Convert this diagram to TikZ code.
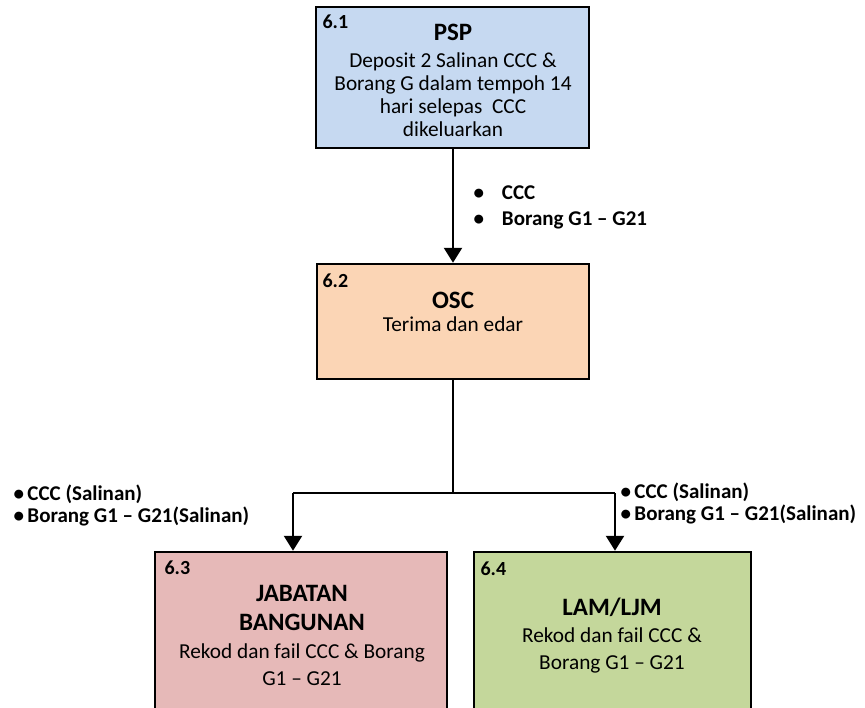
\documentclass[tikz,border=0pt]{standalone}
\usepackage{fontspec}
\setmainfont{Carlito}
\usetikzlibrary{arrows.meta}
\definecolor{biru}{HTML}{C6D9F1}
\definecolor{oren}{HTML}{FBD5B5}
\definecolor{merah}{HTML}{E6B9B8}
\definecolor{hijau}{HTML}{C4D79B}
\newcommand{\tajuk}[1]{{\fontsize{25}{28}\selectfont\bfseries #1}}

\begin{document}
\begin{tikzpicture}[x=1pt,y=-1pt,
  kotak/.style={draw,line width=2.5pt,inner sep=0pt},
  isi/.style={align=center,font=\fontsize{21.3}{23}\selectfont},
  nombor/.style={anchor=west,font=\fontsize{20}{22}\selectfont\bfseries},
  label/.style={anchor=west,align=left,font=\fontsize{21}{22}\selectfont\bfseries},
  panah/.style={line width=2.5pt,-{Triangle[width=18pt,length=15pt]}}]
\useasboundingbox (0,0) rectangle (865,707);
\clip (0,0) rectangle (865,707);

% kotak
\node[kotak,fill=biru,minimum width=273pt,minimum height=141pt] (psp) at (452.5,77.5) {};
\node[kotak,fill=oren,minimum width=272pt,minimum height=115pt] (osc) at (453,321.5) {};
\node[kotak,fill=merah,minimum width=292pt,minimum height=190pt] (jb) at (301,647) {};
\node[kotak,fill=hijau,minimum width=277pt,minimum height=190pt] (lam) at (612.5,647) {};

% nombor
\node[nombor] (n1) at (319,22) {6.1};
\node[nombor] (n2) at (319,281) {6.2};
\node[nombor] (n3) at (161,568) {6.3};
\node[nombor] (n4) at (477,569) {6.4};

% teks
\node[isi] (t1) at (453,80) {\tajuk{PSP}\\[4pt]Deposit 2 Salinan CCC \&\\Borang G dalam tempoh 14\\hari selepas\ \ CCC\\dikeluarkan};
\node[isi] (t2) at (453,312) {\tajuk{OSC}\\Terima dan edar};
\node[isi] (t3) at (302,635) {\tajuk{JABATAN}\\[6pt]\tajuk{BANGUNAN}\\[5pt]Rekod dan fail CCC \& Borang\\[4pt]G1 -- G21};
\node[isi] (t4) at (612,636) {\tajuk{LAM/LJM}\\[4pt]Rekod dan fail CCC \&\\[4pt]Borang G1 -- G21};

% sambungan
\coordinate (cabang) at (453,493);
\coordinate (kiri) at (293,493);
\coordinate (kanan) at (615,493);
\draw[panah] (psp.south -| osc.north) -- (osc.north);
\draw[line width=2.5pt] (osc.south) -- (cabang);
\draw[line width=2.5pt] (kiri) -- (kanan);
\draw[panah] (kiri) -- (kiri |- jb.north);
\draw[panah] (kanan) -- (kanan |- lam.north);

% label
\node[label] (l1) at (470,207) {\textbullet\hspace{18pt}CCC\\[4pt]\textbullet\hspace{18pt}Borang G1 -- G21};
\node[label] (l2) at (10,505) {\textbullet\,CCC (Salinan)\\\textbullet\,Borang G1 -- G21(Salinan)};
\node[label] (l3) at (617,503) {\textbullet\,CCC (Salinan)\\\textbullet\,Borang G1 -- G21(Salinan)};
\end{tikzpicture}
\end{document}
